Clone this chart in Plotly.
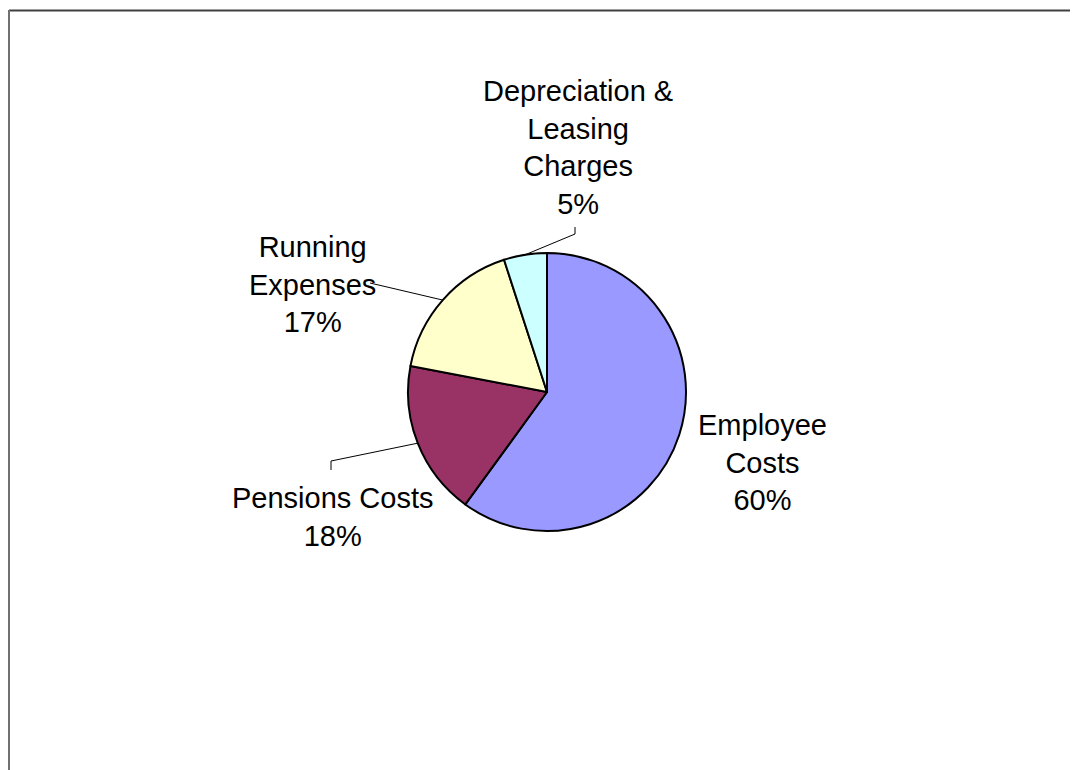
import math
import plotly.graph_objects as go

labels = ["Employee Costs", "Pensions Costs", "Running Expenses", "Depreciation & Leasing Charges"]
values = [60, 18, 17, 5]
colors = ["#9999FF", "#993366", "#FFFFCC", "#CCFFFF"]
label_texts = ["Employee<br>Costs<br>60%", "Pensions Costs<br>18%",
               "Running<br>Expenses<br>17%", "Depreciation &<br>Leasing<br>Charges<br>5%"]

OFF = 8  # page body margin
W, H = 1078 - OFF, 770 - OFF
cx, cy, R = 547 - OFF, 392 - OFF, 139


def px(x):
    return (x - OFF) / W


def py(y):
    return 1 - (y - OFF) / H


fig = go.Figure(go.Pie(
    labels=labels, values=values, sort=False, direction="clockwise", rotation=0,
    marker=dict(colors=colors, line=dict(color="black", width=2)),
    textinfo="none", hoverinfo="label+percent", showlegend=False,
    domain=dict(x=[(cx - R) / W, (cx + R) / W], y=[(H - cy - R) / H, (H - cy + R) / H]),
))

# label anchor positions and leader elbow points (page pixel coords)
label_pos = [(762, 462), (333, 517), (312, 285), (578, 147)]
leaders = [None, [(331, 470), (331, 461)], [(370, 283)], [(575, 227), (575, 234)]]

PCX, PCY = 547, 392
shapes = []
total = sum(values)
cum = 0
for i, v in enumerate(values):
    mid = (cum + v / 2) / total * 2 * math.pi
    cum += v
    ex, ey = PCX + R * math.sin(mid), PCY - R * math.cos(mid)
    if leaders[i] is None:
        continue
    pts = leaders[i] + [(ex, ey)]
    for (x0, y0), (x1, y1) in zip(pts[:-1], pts[1:]):
        shapes.append(dict(type="line", xref="paper", yref="paper",
                           x0=px(x0), y0=py(y0), x1=px(x1), y1=py(y1),
                           line=dict(color="black", width=1)))

annotations = []
for (x, y), t in zip(label_pos, label_texts):
    annotations.append(dict(x=px(x), y=py(y), xref="paper", yref="paper", text=t,
                            showarrow=False, xanchor="center", yanchor="middle",
                            align="center",
                            font=dict(family="Liberation Sans, Arial", size=29, color="black")))

# chart frame (top and left edges visible)
shapes.append(dict(type="line", xref="paper", yref="paper", x0=px(9), y0=py(10.5), x1=1.0, y1=py(10.5),
                   line=dict(color="#404040", width=2)))
shapes.append(dict(type="line", xref="paper", yref="paper", x0=px(9), y0=py(10), x1=px(9), y1=0.0,
                   line=dict(color="#707070", width=2)))

fig.update_layout(width=W, height=H, margin=dict(l=0, r=0, t=0, b=0),
                  paper_bgcolor="white", plot_bgcolor="white",
                  shapes=shapes, annotations=annotations)
fig.write_html("out.html")
